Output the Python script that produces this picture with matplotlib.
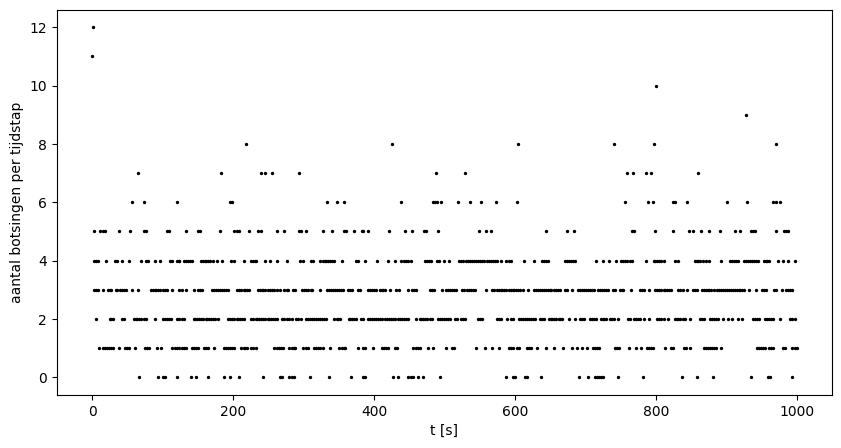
import numpy as np
import matplotlib
matplotlib.use("Agg")
from matplotlib import pyplot as plt

t_12 = [1]
t_11 = [0]
t_10 = [800]
t_9 = [928]
t_8 = [219, 425, 604, 741, 797, 971]
t_7 = [65, 183, 239, 246, 256, 293, 488, 529, 759, 768, 786, 793, 860]
t_6 = [56, 73, 120, 195, 198, 334, 348, 358, 439, 484, 486, 489, 495, 519,
       536, 552, 573, 603, 756, 789, 796, 825, 828, 845, 901, 930, 966, 971,
       976]
t_5 = [2, 11, 15, 18, 38, 54, 73, 76, 106, 109,
       133, 150, 153, 181, 202, 205, 208, 222, 236, 239,
       263, 273, 294, 297, 304, 327, 341, 358, 361, 371, 383, 385, 392,
       421, 444, 454, 471, 474, 491,
       549, 559, 566, 644,
       674, 684, 766, 769, 799,
       824, 847, 853, 864, 876, 891, 912, 920,
       935, 938, 941, 971, 982, 985, 988]
t_4 = [2, 5, 8, 19, 33, 36, 42, 52, 70, 76, 79, 89, 97, 110, 113, 120, 123,
       124, 130, 133, 136, 139, 142, 154, 157, 160, 162, 165, 168, 171, 177,
       185, 197, 202, 215, 225, 228, 231, 233, 246, 253,
       262, 277, 295, 299, 310, 313, 324, 327, 330, 332, 335, 338, 341, 344,
       354, 374, 377, 388,
       405, 420, 430, 438, 443, 446, 448, 452, 472, 475, 478, 481, 490, 493,
       500, 506, 521, 524, 527,
       531, 534, 536, 539, 542, 545, 548, 551, 554, 556, 561, 563, 566, 569,
       572, 575, 581, 588, 591, 594, 613, 627, 638, 641, 644, 647,
       671, 674, 677, 680, 683, 686, 715, 725, 734, 743, 751, 753, 756, 759,
       763, 766, 786, 797,
       799, 802, 805, 808, 811, 828, 831, 855, 858, 860, 863, 867, 872, 875,
       893, 905, 908, 911, 914, 917,
       925, 928, 931, 934, 937, 939, 942, 945, 953, 956, 958, 961, 973, 980,
       987, 998]
t_3 = [3, 6, 9, 15, 22, 25, 27, 34, 36, 39, 42, 45, 48, 56, 65, 83, 86, 89,
       91, 94, 97, 100, 103, 106, 114, 123,
       127, 133, 144, 150, 153, 156, 170, 173, 176, 179, 181, 184, 187, 190,
       193, 206, 209, 212, 215, 217, 220, 223, 235, 238, 241, 243, 246, 249,
       252, 255, 258,
       262, 266, 273, 276, 278, 285, 288, 298, 301, 304, 307, 310, 312, 323,
       333, 336, 339, 342, 345, 348, 350, 353, 356, 363, 366, 369, 377, 380,
       392,
       394, 397, 400, 403, 408, 411, 413, 416, 423, 432, 435, 448, 454, 457,
       460, 480, 483, 485, 497, 502, 505, 508, 511, 514, 517, 525, 528,
       532, 535, 538, 541, 544, 559, 568, 571, 574, 577, 580, 582, 585, 588,
       591, 594, 597, 599, 602, 605, 608, 611, 619, 627, 630, 633, 635, 638,
       641, 644, 647, 650, 652, 655, 658, 661,
       664, 671, 674, 681, 689, 692, 695, 698, 701, 704, 707, 709, 712, 718,
       721, 724, 726, 729, 732, 739, 742, 749, 752, 754, 765, 778, 780, 783,
       790,
       799, 802, 805, 808, 811, 813, 816, 819, 822, 832, 835, 838, 844, 853,
       856, 859, 865, 868, 871, 874, 876, 879, 882, 887, 890, 893, 895, 898,
       901, 904, 907, 910, 912, 915, 918,
       919, 922, 925, 933, 942, 951, 954, 956, 968, 971, 979, 985, 988, 991,
       993]
t_2 = [5, 25, 27, 30, 42, 45, 59, 62, 64, 67, 70, 73, 76, 89, 100, 103, 106,
       109, 112, 120, 123,
       127, 130, 144, 146, 149, 152, 155, 158, 161, 163, 166, 169, 172, 175,
       178, 193, 196, 199, 202, 205, 207, 210, 213, 216, 226, 229, 232, 234,
       237, 240, 243, 246, 249, 251, 254, 257,
       259, 262, 270, 273, 276, 280, 283, 289, 292, 296, 304, 306, 309, 312,
       315, 318, 321, 323, 326, 329, 332, 344, 347, 349, 352, 364, 366, 369,
       372, 375, 381, 384, 391,
       394, 397, 400, 403, 406, 409, 412, 415, 418, 421, 424, 427, 430, 434,
       437, 440, 443, 446, 448, 459, 465, 467, 470, 473, 476, 479, 482, 491,
       494, 497, 500, 502, 505, 508, 515, 518, 524, 527,
       529, 547, 550, 553, 575, 578, 581, 589, 595, 598, 606, 609, 612, 615,
       617, 620, 623, 626, 629, 635, 638, 641, 648, 651, 653, 656, 659, 662,
       664, 667, 677, 685, 692, 695, 698, 707, 709, 712, 715, 722, 725, 727,
       730, 735, 738, 741, 746, 761, 763, 769, 772, 775, 778, 783, 790,
       802, 805, 808, 811, 817, 827, 830, 832, 835, 838, 841, 849, 863, 866,
       868, 877, 880, 883, 886, 889, 895, 903, 908, 917,
       922, 938, 941, 944, 947, 955, 958, 961, 964, 966, 977, 991, 994, 997]
t_1 = [10, 16, 18, 21, 24, 27, 30, 38, 47, 50, 53, 61, 75, 78, 81, 92, 98,
       114, 117, 120,
       124, 127, 130, 133, 142, 144, 147, 150, 159, 161, 164, 173, 187, 190,
       193, 196, 198, 201, 212, 215, 217, 220, 226, 229, 232, 258,
       262, 265, 268, 271, 280, 283, 286, 288, 300, 303, 306, 315, 318, 321,
       324, 327, 337, 351, 354, 357, 359, 378, 385, 388,
       398, 412, 414, 417, 420, 430, 433, 456, 459, 462, 465, 477, 484, 502,
       511, 514,
       545, 557, 568, 577, 591, 594, 597, 603, 606, 617, 620, 623, 631, 644,
       655,
       669, 681, 688, 695, 702, 711, 714, 716, 719, 742, 745, 748, 762, 772,
       779, 788, 790, 793, 796,
       813, 822, 824, 840, 843, 849, 868, 871, 874, 877, 880, 883, 885, 893,
       944, 947, 949, 952, 955, 961, 964, 967, 981, 983, 994, 997, 1000]
t_0 = [67, 94, 101, 104, 121,
       140, 147, 165, 187, 195, 208, 243,
       266, 269, 280, 283, 286, 309, 336, 368, 385, 388,
       427, 434, 449, 452, 455, 463, 469, 494,
       587, 598, 600, 614, 617, 637,
       691, 704, 714, 716, 719, 722, 725, 746, 782,
       837, 858, 881,
       935, 959, 962, 993]

niveaus = [t_0, t_1, t_2, t_3, t_4, t_5, t_6, t_7, t_8, t_9, t_10, t_11, t_12]

tijd = []
aantal = []
for n, ts in enumerate(niveaus):
    tijd += ts
    aantal += [n] * len(ts)
tijd = np.array(tijd)
aantal = np.array(aantal)

fig = plt.figure(figsize=(10, 5))
plt.scatter(tijd, aantal, s=2, color='k')
plt.xlabel('t [s]')
plt.ylabel('aantal botsingen per tijdstap')
plt.savefig('out.png', dpi=100, bbox_inches='tight')
